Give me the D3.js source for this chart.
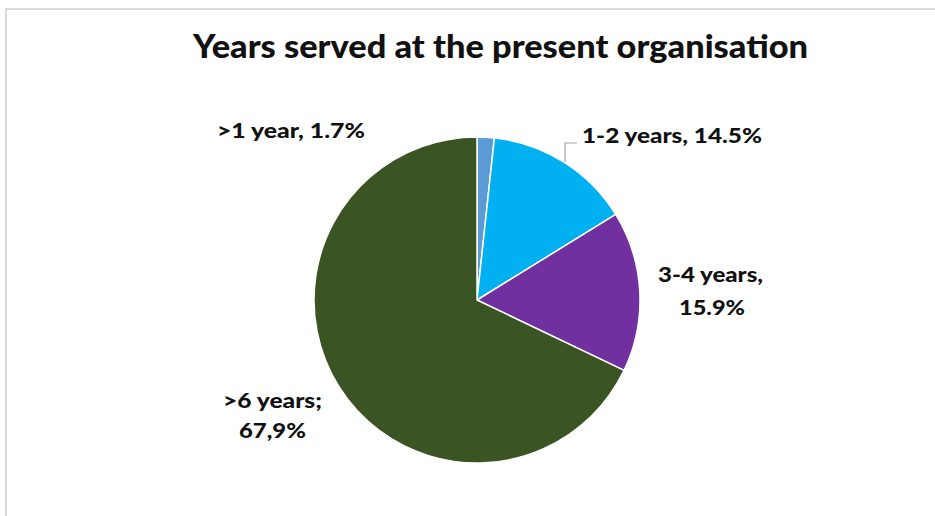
<!DOCTYPE html>
<html>
<head>
<meta charset="utf-8">
<script src="https://cdn.jsdelivr.net/npm/d3@7"></script>
<style>
  html, body { margin: 0; padding: 0; background: #ffffff; }
  svg { display: block; }
  text { font-family: Lato, "Open Sans", "DejaVu Sans", sans-serif; font-weight: 900; fill: #111111; }
</style>
</head>
<body>
<svg id="chart" width="935" height="516"></svg>
<script>
// Tenure at the present organisation (share of respondents, %)
const categories = [">1 year", "1-2 years", "3-4 years", ">6 years"];
const values = [1.7, 14.5, 15.9, 67.9];
const colors = ["#5b9bd5", "#00b0f0", "#7030a0", "#3a5424"];
// Label text conventions as printed on the chart
const separators = [",", ",", ",", ";"];
const decimalMarks = [".", ".", ".", ","];
const title = "Years served at the present organisation";

const width = 935, height = 516;
const cx = 477, cy = 300, radius = 163;

const svg = d3.select("#chart");

// chart frame
svg.append("rect")
  .attr("x", 6).attr("y", 9)
  .attr("width", width + 20).attr("height", height + 20)
  .attr("fill", "#ffffff")
  .attr("stroke", "#d9d9d9")
  .attr("stroke-width", 2);

svg.append("text")
  .attr("x", 193).attr("y", 58)
  .attr("font-size", 32)
  .attr("textLength", 615)
  .attr("lengthAdjust", "spacingAndGlyphs")
  .text(title);

const pie = d3.pie().sort(null).value(d => d.value);
const data = categories.map((c, i) => ({ category: c, value: values[i], i }));
const arcs = pie(data);
const arc = d3.arc().innerRadius(0).outerRadius(radius);

const g = svg.append("g").attr("transform", `translate(${cx},${cy})`);

g.selectAll("path.slice")
  .data(arcs)
  .join("path")
  .attr("class", "slice")
  .attr("d", arc)
  .attr("fill", d => colors[d.data.i])
  .attr("stroke", "#ffffff")
  .attr("stroke-width", 1.5)
  .attr("stroke-linejoin", "round");

function fmt(i) {
  return values[i].toFixed(1).replace(".", decimalMarks[i]) + "%";
}

// label lines relative to the pie centre: left x, baseline y, line width
const labelLines = [
  { text: categories[0] + separators[0] + " " + fmt(0), x: -260, y: -162, w: 148 },
  { text: categories[1] + separators[1] + " " + fmt(1), x: 105, y: -157, w: 180 },
  { text: categories[2] + separators[2], x: 181, y: -18, w: 105 },
  { text: fmt(2), x: 202, y: 15, w: 66 },
  { text: categories[3] + separators[3], x: -254, y: 108, w: 99 },
  { text: fmt(3), x: -238, y: 138, w: 67 }
];

g.selectAll("text.lbl")
  .data(labelLines)
  .join("text")
  .attr("class", "lbl")
  .attr("font-size", 21)
  .attr("x", d => d.x)
  .attr("y", d => d.y)
  .attr("textLength", d => d.w)
  .attr("lengthAdjust", "spacingAndGlyphs")
  .text(d => d.text);

// leader line for the 1-2 years slice
g.append("path")
  .attr("d", "M88,-138 L88,-157 L100,-157")
  .attr("fill", "none")
  .attr("stroke", "#a6a6a6")
  .attr("stroke-width", 1.2);
</script>
</body>
</html>
